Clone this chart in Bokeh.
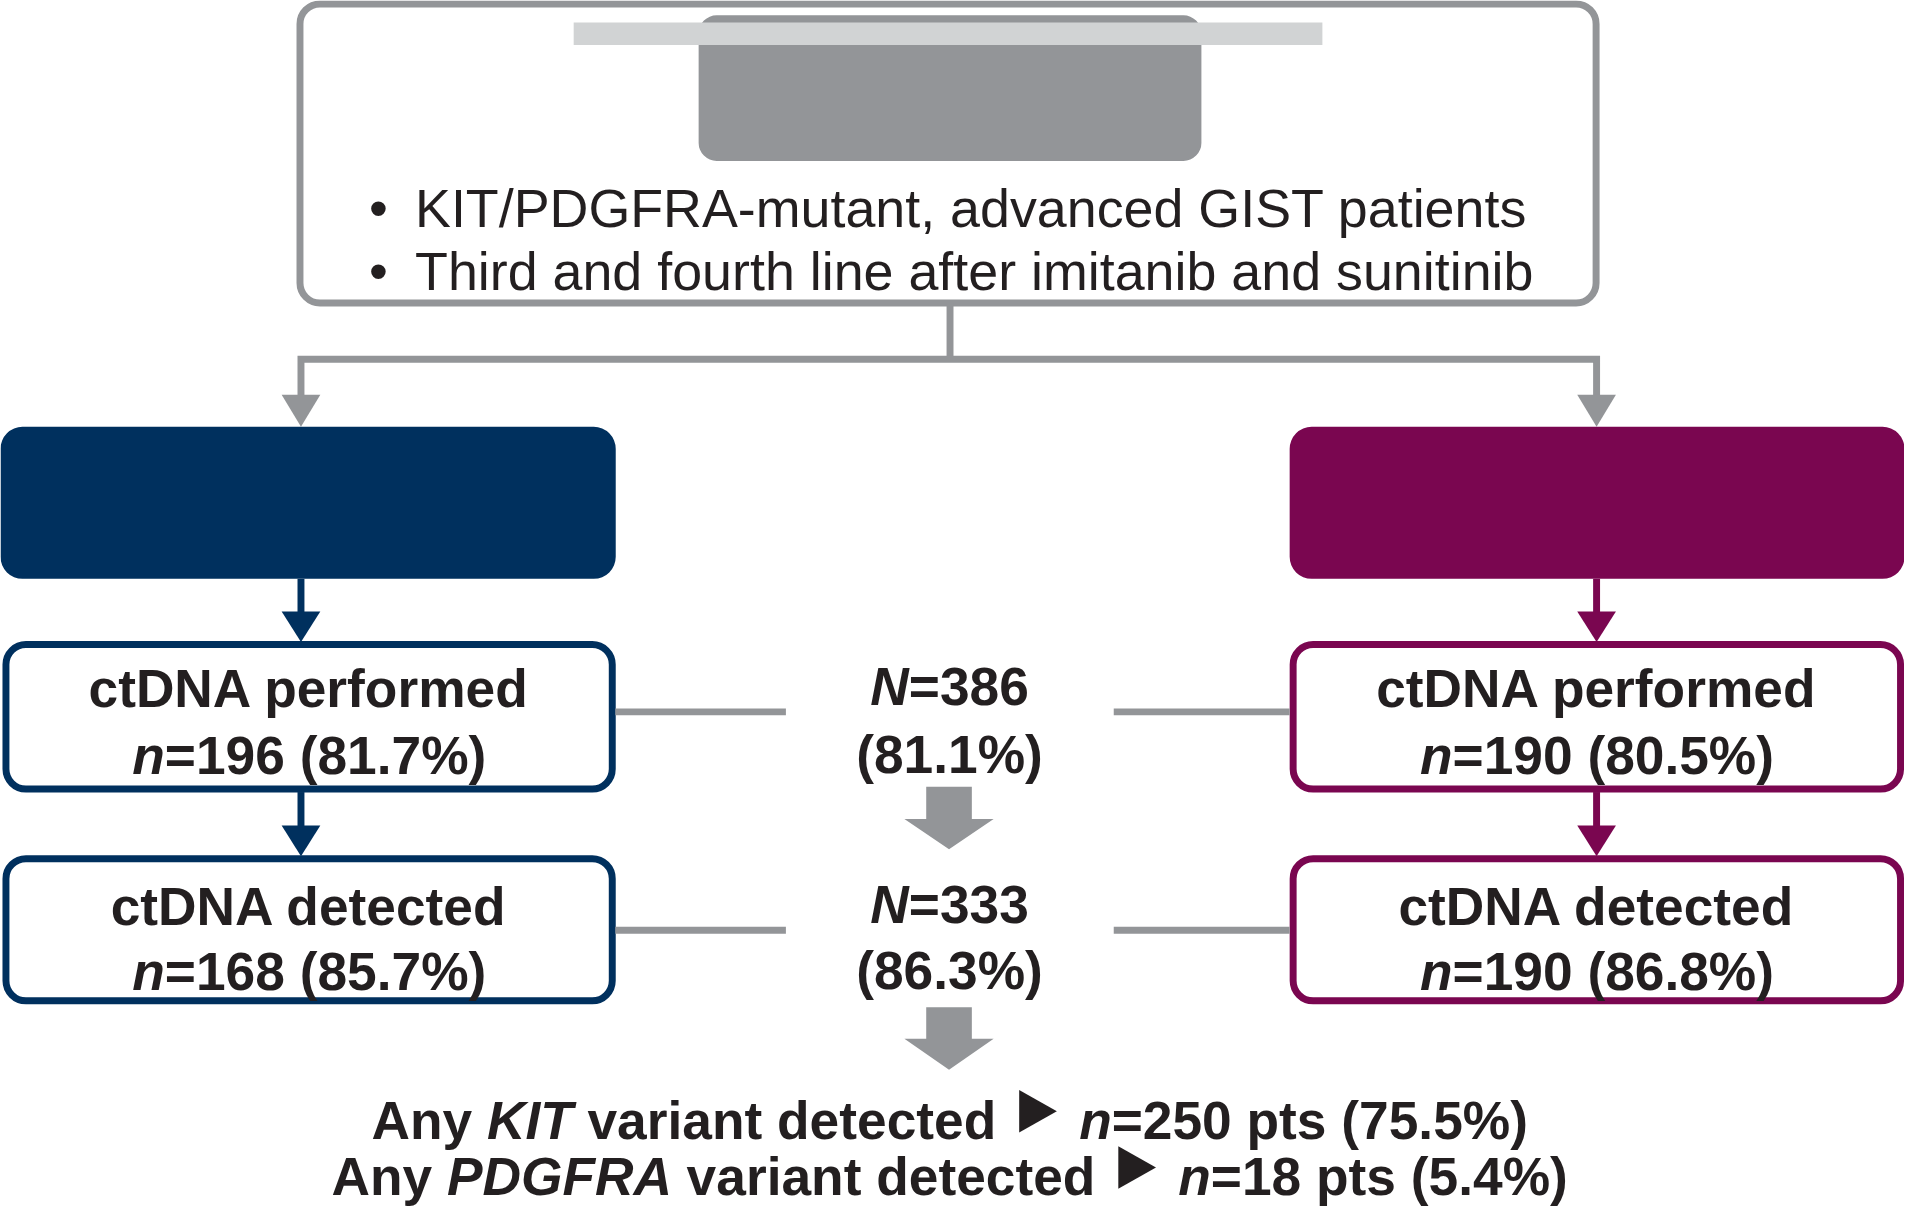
from bokeh.plotting import figure
from bokeh.models import Range1d
from bokeh.core.properties import value
from bokeh.embed import file_html
from bokeh.resources import INLINE

# ---------------- data ----------------
criteria = ["KIT/PDGFRA-mutant, advanced GIST patients",
            "Third and fourth line after imitanib and sunitinib"]
arm_colors = ["#00305E", "#7A0650"]
steps = ["ctDNA performed", "ctDNA detected"]
performed_n = [196, 190]
performed_pct = [81.7, 80.5]
detected_n = [168, 190]
detected_pct = [85.7, 86.8]
pooled_n = [386, 333]
pooled_pct = [81.1, 86.3]
genes = ["KIT", "PDGFRA"]
gene_n = [250, 18]
gene_pct = [75.5, 5.4]

# ---------------- layout ----------------
W_REF, H_REF = 1920, 1227
PW, PH = 1904, 1211
S = PW / W_REF
FS = 53.7                      # bold font size in reference pixels
FS_REG = 54.3                  # regular font size in reference pixels
FSPX = f"{FS * S:.1f}px"
FSPX_REG = f"{FS_REG * S:.1f}px"
DESC = 0.212 * FS              # baseline correction (text drawn from descent line)
DESC_REG = 0.212 * FS_REG
FONT = value("Liberation Sans")
INK = "#231F20"
GRAY = "#939598"
LIGHT = "#D1D3D4"
LW = 7 * S


def Y(v):
    return H_REF - v


BOLD_W = {" ": 278, "%": 889, "(": 333, ")": 333, ".": 278, "=": 584,
          "A": 722, "D": 722, "F": 611, "G": 778, "I": 278, "K": 722,
          "N": 722, "P": 667, "R": 722, "T": 611, "S": 667,
          "a": 556, "c": 556, "d": 611, "e": 556, "f": 333, "i": 278,
          "m": 889, "n": 611, "o": 611, "p": 611, "r": 389, "s": 556,
          "t": 333, "v": 556, "y": 556}
for _d in "0123456789":
    BOLD_W[_d] = 556


def em(s):
    return sum(BOLD_W.get(c, 556) for c in s) / 1000.0


p = figure(width=PW, height=PH, x_range=Range1d(0, W_REF), y_range=Range1d(0, H_REF),
           output_backend="svg", toolbar_location=None, min_border=0,
           x_axis_location=None, y_axis_location=None)
p.grid.visible = False
p.outline_line_color = None
p.background_fill_color = "white"
p.border_fill_color = "white"

# ---------------- top box ----------------
p.quad(left=[302], right=[1609], top=[Y(3.5)], bottom=[Y(306.5)],
       fill_color="white", line_color=GRAY, line_width=LW, border_radius=20)
p.quad(left=[704], right=[1211], top=[Y(15)], bottom=[Y(162.5)],
       fill_color=GRAY, line_color=None, border_radius=18)
p.quad(left=[578], right=[1333], top=[Y(22.3)], bottom=[Y(45)],
       fill_color=LIGHT, line_color=None)

# connectors from top box
p.multi_line(xs=[[957.5, 957.5], [303, 303, 1609.5, 1609.5]],
             ys=[[Y(306.5), Y(363.5)], [Y(401), Y(363.5), Y(363.5), Y(401)]],
             line_color=GRAY, line_width=LW, line_join="miter")
arm_x = [303, 1609.5]
p.patches(xs=[[cx - 19.5, cx + 19.5, cx] for cx in arm_x],
          ys=[[Y(399.5), Y(399.5), Y(432)] for _ in arm_x],
          fill_color=GRAY, line_color=None)

# ---------------- arm boxes ----------------
p.quad(left=[0, 1300], right=[620.4, 1920], top=[Y(432)] * 2, bottom=[Y(586)] * 2,
       fill_color=arm_colors, line_color=None, border_radius=22)

box_l = [5.5, 1303.5]
box_r = [616.9, 1916]
box_top = [652.5, 869.5]
box_bot = [799.0, 1013.5]
for a in range(2):
    col = arm_colors[a]
    cx = arm_x[a]
    p.multi_line(xs=[[cx, cx], [cx, cx]],
                 ys=[[Y(586), Y(622)], [Y(802), Y(838)]],
                 line_color=col, line_width=LW)
    p.patches(xs=[[cx - 19.5, cx + 19.5, cx], [cx - 19.5, cx + 19.5, cx]],
              ys=[[Y(619), Y(619), Y(650)], [Y(836), Y(836), Y(867)]],
              fill_color=col, line_color=None)
    p.quad(left=[box_l[a]] * 2, right=[box_r[a]] * 2, top=[Y(t) for t in box_top],
           bottom=[Y(b) for b in box_bot], fill_color="white", line_color=col,
           line_width=LW, border_radius=20)

# gray horizontal links
link_y = [720.8, 942]
p.multi_line(xs=[[620, 792], [620, 792], [1122.6, 1300], [1122.6, 1300]],
             ys=[[Y(link_y[0])] * 2, [Y(link_y[1])] * 2, [Y(link_y[0])] * 2, [Y(link_y[1])] * 2],
             line_color=GRAY, line_width=LW)


# block arrows in the centre column
def block_arrow(top, htop, tip, cx=956.5):
    xs = [cx - 23, cx + 23, cx + 23, cx + 45, cx, cx - 45, cx - 23]
    ys = [Y(top), Y(top), Y(htop), Y(htop), Y(tip), Y(htop), Y(htop)]
    return xs, ys


a1 = block_arrow(796.7, 829.3, 860)
a2 = block_arrow(1020, 1052, 1083.5)
p.patches(xs=[a1[0], a2[0]], ys=[a1[1], a2[1]], fill_color=GRAY, line_color=None)

# ---------------- texts ----------------
runs = {k: ([], [], []) for k in ("bold", "bold italic")}
center_bold = ([], [], [])
tri_xs, tri_ys = [], []
TRI_GAP = 84.0


def put(style, x, base, t):
    runs[style][0].append(x)
    runs[style][1].append(Y(base - DESC))
    runs[style][2].append(t)


def rich_line(segs, cx, base):
    total = sum(TRI_GAP if st == "tri" else em(t) * FS for t, st in segs)
    x = cx - total / 2.0
    for t, st in segs:
        if st == "tri":
            x0 = x + 23.5
            tri_xs.append([x0, x0 + 38, x0])
            tri_ys.append([Y(base - 42), Y(base - 20.5), Y(base + 1)])
            x += TRI_GAP
        else:
            core = t.strip(" ")
            lead = len(t) - len(t.lstrip(" "))
            put(st, x + em(" " * lead) * FS, base, core)
            x += em(t) * FS


def center(t, cx, base):
    center_bold[0].append(cx)
    center_bold[1].append(Y(base - DESC))
    center_bold[2].append(t)


box_cx = [(box_l[a] + box_r[a]) / 2 for a in range(2)]
line1 = [708, 929]
line2 = [776, 995]
step_n = [performed_n, detected_n]
step_pct = [performed_pct, detected_pct]
for a in range(2):
    for s in range(2):
        center(steps[s], box_cx[a], line1[s])
        rich_line([("n", "bold italic"),
                   (f"={step_n[s][a]} ({step_pct[s][a]:.1f}%)", "bold")],
                  box_cx[a], line2[s])

for s in range(2):
    rich_line([("N", "bold italic"), (f"={pooled_n[s]}", "bold")], 957, line1[s] - 2)
    center(f"({pooled_pct[s]:.1f}%)", 957, line2[s] - 1)

gene_base = [1146, 1203]
for g in range(2):
    rich_line([("Any ", "bold"), (genes[g], "bold italic"),
               (" variant detected", "bold"), ("", "tri"),
               ("n", "bold italic"), (f"={gene_n[g]} pts ({gene_pct[g]:.1f}%)", "bold")],
              957, gene_base[g])

for style, (xs, ys, ts) in runs.items():
    p.text(x=xs, y=ys, text=ts, text_font=FONT, text_font_size=FSPX,
           text_font_style=style, text_color=INK, text_align="left",
           text_baseline="alphabetic")
p.text(x=center_bold[0], y=center_bold[1], text=center_bold[2], text_font=FONT,
       text_font_size=FSPX, text_font_style="bold", text_color=INK,
       text_align="center", text_baseline="alphabetic")
p.patches(xs=tri_xs, ys=tri_ys, fill_color=INK, line_color=None)

# top criteria text
crit_base = [222, 286]
p.text(x=[381] * 2, y=[Y(b - DESC_REG) for b in crit_base], text=["\u2022"] * 2,
       text_font=FONT, text_font_size=FSPX_REG, text_color=INK, text_align="center",
       text_baseline="alphabetic")
p.text(x=[418] * 2, y=[Y(b - DESC_REG) for b in crit_base], text=criteria, text_font=FONT,
       text_font_size=FSPX_REG, text_color=INK, text_align="left",
       text_baseline="alphabetic")

open("out.html", "w").write(file_html(p, INLINE))
